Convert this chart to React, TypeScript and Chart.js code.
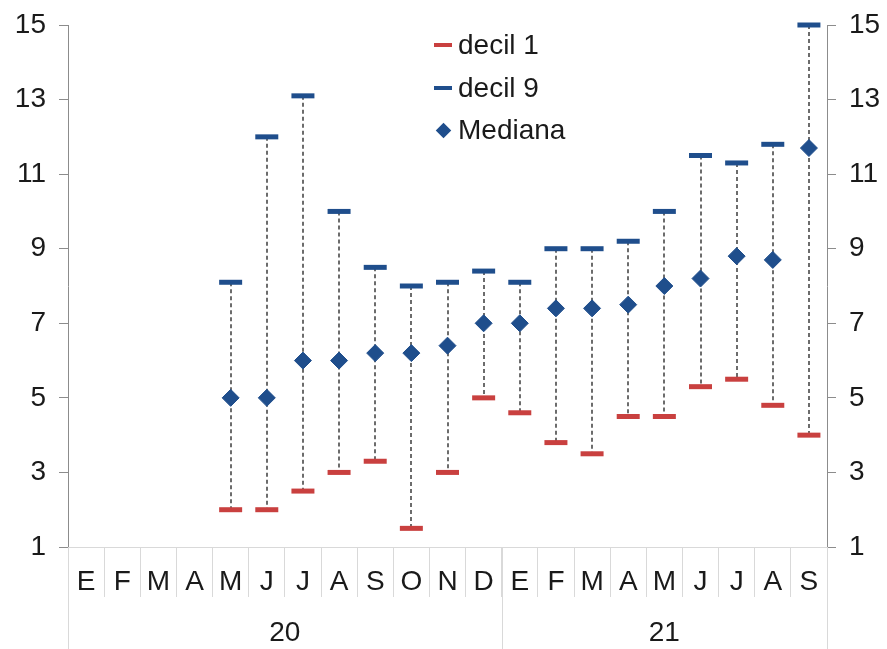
import React, { useEffect, useRef } from 'react';
import { Chart, registerables } from 'chart.js';

Chart.register(...registerables);

const months = ['E', 'F', 'M', 'A', 'M', 'J', 'J', 'A', 'S', 'O', 'N', 'D', 'E', 'F', 'M', 'A', 'M', 'J', 'J', 'A', 'S'];
const yearLabels = ['20', '21'];
const yearSpans = [12, 9];
const yTicks = [1, 3, 5, 7, 9, 11, 13, 15];

const decil1 = [null, null, null, null, 2.0, 2.0, 2.5, 3.0, 3.3, 1.5, 3.0, 5.0, 4.6, 3.8, 3.5, 4.5, 4.5, 5.3, 5.5, 4.8, 4.0];
const decil9 = [null, null, null, null, 8.1, 12.0, 13.1, 10.0, 8.5, 8.0, 8.1, 8.4, 8.1, 9.0, 9.0, 9.2, 10.0, 11.5, 11.3, 11.8, 15.0];
const mediana = [null, null, null, null, 5.0, 5.0, 6.0, 6.0, 6.2, 6.2, 6.4, 7.0, 7.0, 7.4, 7.4, 7.5, 8.0, 8.2, 8.8, 8.7, 11.7];

const seriesNames = ['decil 1', 'decil 9', 'Mediana'];
const RED = '#c9403f';
const BLUE = '#1f4e8c';
const TEXT = '#1a1a1a';
const FONT = "'Liberation Sans', Arial, sans-serif";
const FS = 28;

const rangePlugin = {
  id: 'ranges',
  beforeDatasetsDraw(chart: any) {
    const { ctx, scales } = chart;
    const x = scales.x;
    const y = scales.y;
    const lo = chart.data.datasets[0].data;
    const hi = chart.data.datasets[1].data;
    ctx.save();
    ctx.strokeStyle = '#3c3c3c';
    ctx.lineWidth = 1.5;
    ctx.setLineDash([4, 3]);
    lo.forEach((v: number | null, i: number) => {
      const h = hi[i];
      if (v == null || h == null) return;
      const px = Math.round(x.getPixelForValue(i));
      ctx.beginPath();
      ctx.moveTo(px, y.getPixelForValue(h));
      ctx.lineTo(px, y.getPixelForValue(v));
      ctx.stroke();
    });
    ctx.restore();
  },
  afterDraw(chart: any) {
    const { ctx, scales, chartArea } = chart;
    const x = scales.x;
    const half = (x.getPixelForValue(1) - x.getPixelForValue(0)) / 2;
    const bottom = chart.height;
    ctx.save();
    ctx.strokeStyle = '#d9d9d9';
    ctx.lineWidth = 1;
    let start = 0;
    const bounds: number[] = [start];
    yearSpans.forEach((n) => {
      start += n;
      bounds.push(start);
    });
    bounds.forEach((b) => {
      const px = Math.round(x.getPixelForValue(b) - half) + 0.5;
      ctx.beginPath();
      ctx.moveTo(px, chartArea.bottom);
      ctx.lineTo(px, bottom);
      ctx.stroke();
    });
    ctx.fillStyle = TEXT;
    ctx.font = `${FS}px ${FONT}`;
    ctx.textAlign = 'center';
    ctx.textBaseline = 'middle';
    yearLabels.forEach((lab, k) => {
      const a = x.getPixelForValue(bounds[k]);
      const b = x.getPixelForValue(bounds[k + 1] - 1);
      ctx.fillText(lab, (a + b) / 2, 633);
    });
    ctx.restore();
  },
};

function LegendMarker({ kind }: { kind: number }) {
  if (kind === 2) {
    return (
      <span style={{ width: 18, height: 18, display: 'inline-flex', alignItems: 'center', justifyContent: 'center' }}>
        <span style={{ width: 11, height: 11, background: BLUE, transform: 'rotate(45deg)', display: 'block' }} />
      </span>
    );
  }
  return (
    <span style={{ width: 18, height: 18, display: 'inline-flex', alignItems: 'center' }}>
      <span style={{ width: 18, height: 4, background: kind === 0 ? RED : BLUE, display: 'block' }} />
    </span>
  );
}

export default function App() {
  const ref = useRef<HTMLCanvasElement | null>(null);

  useEffect(() => {
    if (!ref.current) return;
    const yCommon = {
      min: 1,
      max: 15,
      afterBuildTicks: (s: any) => {
        s.ticks = yTicks.map((v) => ({ value: v }));
      },
      grid: { drawOnChartArea: false, drawTicks: true, tickLength: 9, color: '#8c8c8c' },
      border: { display: true, color: '#8c8c8c', width: 1 },
      ticks: { color: TEXT, font: { size: FS, family: FONT, lineHeight: 1 }, padding: 13 },
    };
    const marker = {
      showLine: false,
      clip: false,
      pointStyle: 'line',
      pointRadius: 11.5,
      pointHoverRadius: 11.5,
      pointBorderWidth: 5,
      pointHoverBorderWidth: 5,
    };
    const chart = new Chart(ref.current, {
      type: 'line',
      data: {
        labels: months,
        datasets: [
          { ...marker, label: seriesNames[0], data: decil1, borderColor: RED, backgroundColor: RED },
          { ...marker, label: seriesNames[1], data: decil9, borderColor: BLUE, backgroundColor: BLUE },
          {
            label: seriesNames[2],
            data: mediana,
            showLine: false,
            clip: false,
            pointStyle: 'rectRot',
            pointRadius: 8.5,
            pointHoverRadius: 8.5,
            pointBorderWidth: 1,
            borderColor: BLUE,
            backgroundColor: BLUE,
          },
        ],
      } as any,
      options: {
        responsive: false,
        animation: false,
        layout: { padding: { top: 25, left: 0, right: 0, bottom: 0 } },
        plugins: { legend: { display: false }, tooltip: { enabled: false } },
        scales: {
          x: {
            type: 'category',
            offset: true,
            grid: { offset: true, drawOnChartArea: false, drawTicks: true, tickLength: 50, color: '#d9d9d9' },
            border: { display: true, color: '#d9d9d9' },
            ticks: { color: TEXT, font: { size: FS, family: FONT }, padding: -32, maxRotation: 0, autoSkip: false },
            afterFit: (s: any) => {
              s.height = 102;
            },
          },
          y: {
            ...yCommon,
            position: 'left',
            afterFit: (s: any) => {
              s.width = 68;
              s.paddingTop = 0;
              s.paddingBottom = 0;
            },
          },
          y2: {
            ...yCommon,
            position: 'right',
            afterFit: (s: any) => {
              s.width = 60;
              s.paddingTop = 0;
              s.paddingBottom = 0;
            },
          },
        },
      } as any,
      plugins: [rangePlugin],
    });
    return () => chart.destroy();
  }, []);

  return (
    <div style={{ position: 'absolute', left: 0, top: 0, width: 887, height: 649, background: '#fff' }}>
      <canvas ref={ref} width={887} height={649} style={{ width: 887, height: 649, display: 'block' }} />
      <div style={{ position: 'absolute', left: 434, top: 24, fontFamily: FONT, fontSize: FS, color: TEXT }}>
        {seriesNames.map((n, i) => (
          <div key={n} style={{ height: 42.5, display: 'flex', alignItems: 'center', whiteSpace: 'nowrap' }}>
            <LegendMarker kind={i} />
            <span style={{ marginLeft: 6, lineHeight: '42px' }}>{n}</span>
          </div>
        ))}
      </div>
    </div>
  );
}
